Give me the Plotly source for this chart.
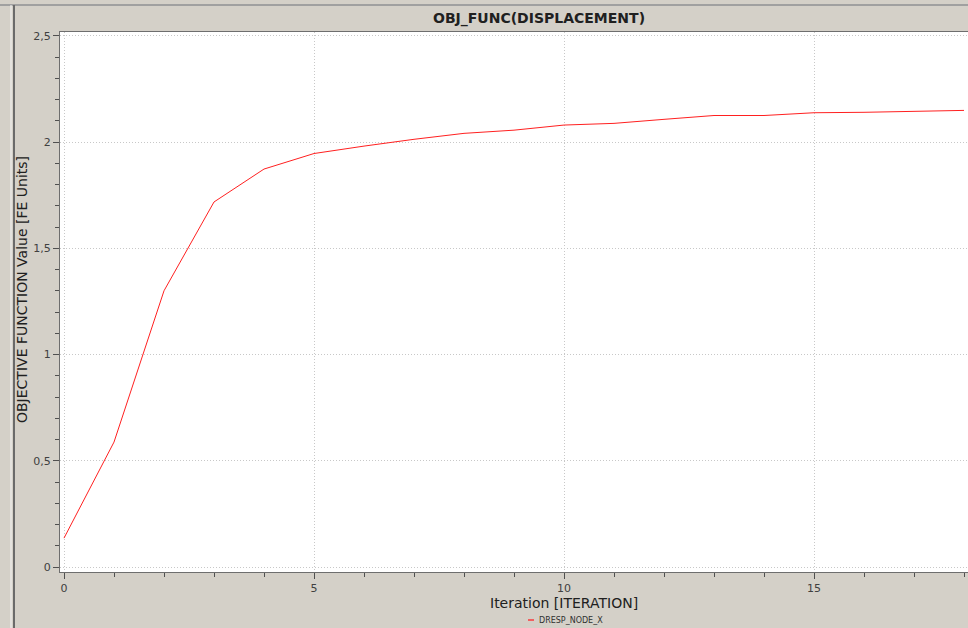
import plotly.graph_objects as go

iterations = list(range(0, 19))
obj_values = [0.136, 0.588, 1.30, 1.718, 1.873, 1.946, 1.981, 2.013, 2.041,
              2.056, 2.080, 2.088, 2.107, 2.125, 2.125, 2.138, 2.140, 2.144, 2.149]
series_name = "DRESP_NODE_X"
title_text = "OBJ_FUNC(DISPLACEMENT)"
x_title = "Iteration [ITERATION]"
y_title = "OBJECTIVE FUNCTION Value [FE Units]"

BG = "#d4d0c8"
FONT = "DejaVu Sans"

W, H = 968, 628
L, R, T, B = 60, 0, 32, 56
pw, ph = W - L - R, H - T - B


def px(x):
    return (x - L) / pw


def py(y):
    return (H - B - y) / ph


fig = go.Figure()
fig.add_trace(go.Scatter(x=iterations, y=obj_values, mode="lines", name=series_name,
                         line=dict(color="#ff2020", width=1), showlegend=False))

axis_common = dict(
    showline=True, linecolor="#6e6e6e", linewidth=1, mirror=True,
    ticks="outside", ticklen=6, tickcolor="#505050", tickwidth=1,
    showgrid=True, gridcolor="#c8c8c8", griddash="1px,2px", gridwidth=1,
    zeroline=False, tickfont=dict(family=FONT, size=11, color="#404040"),
)

fig.update_xaxes(range=[-0.08, 18.08], tick0=0, dtick=5,
                 minor=dict(dtick=1, ticks="outside", ticklen=4, tickcolor="#505050", showgrid=False),
                 **axis_common)
fig.update_yaxes(range=[-0.0235, 2.518], tick0=0, dtick=0.5,
                 minor=dict(dtick=0.1, ticks="outside", ticklen=4, tickcolor="#505050", showgrid=False),
                 **axis_common)

annotations = [
    dict(text="<b>" + title_text + "</b>", x=px(539), y=py(18), xref="paper", yref="paper",
         showarrow=False, font=dict(family=FONT, size=14, color="#202020"), xanchor="center", yanchor="middle"),
    dict(text=x_title, x=px(564), y=py(603), xref="paper", yref="paper",
         showarrow=False, font=dict(family=FONT, size=14, color="#202020"), xanchor="center", yanchor="middle"),
    dict(text=y_title, x=px(22), y=py(290), xref="paper", yref="paper", textangle=-90,
         showarrow=False, font=dict(family=FONT, size=14, color="#202020"), xanchor="center", yanchor="middle"),
    dict(text=series_name, x=px(537), y=py(620), xref="paper", yref="paper",
         showarrow=False, font=dict(family=FONT, size=8, color="#303030"), xanchor="left", yanchor="middle"),
]

shapes = [
    # window frame lines
    dict(type="line", xref="paper", yref="paper", x0=px(0), x1=px(968), y0=py(5), y1=py(5),
         line=dict(color="#a0a0a0", width=2)),
    dict(type="line", xref="paper", yref="paper", x0=px(11), x1=px(11), y0=py(5), y1=py(628),
         line=dict(color="#f4f4f4", width=1)),
    dict(type="line", xref="paper", yref="paper", x0=px(14), x1=px(14), y0=py(5), y1=py(628),
         line=dict(color="#6a6a6a", width=2)),
    # legend sample
    dict(type="line", xref="paper", yref="paper", x0=px(528), x1=px(534), y0=py(620), y1=py(620),
         line=dict(color="#f06060", width=2)),
]

fig.update_layout(
    width=W, height=H, margin=dict(l=L, r=R, t=T, b=B),
    paper_bgcolor=BG, plot_bgcolor="white",
    separators=",.",
    font=dict(family=FONT),
    annotations=annotations, shapes=shapes,
)

fig.write_html("out.html", config={"displayModeBar": False},
               post_script="document.body.style.margin='0';document.body.style.overflow='hidden';")
